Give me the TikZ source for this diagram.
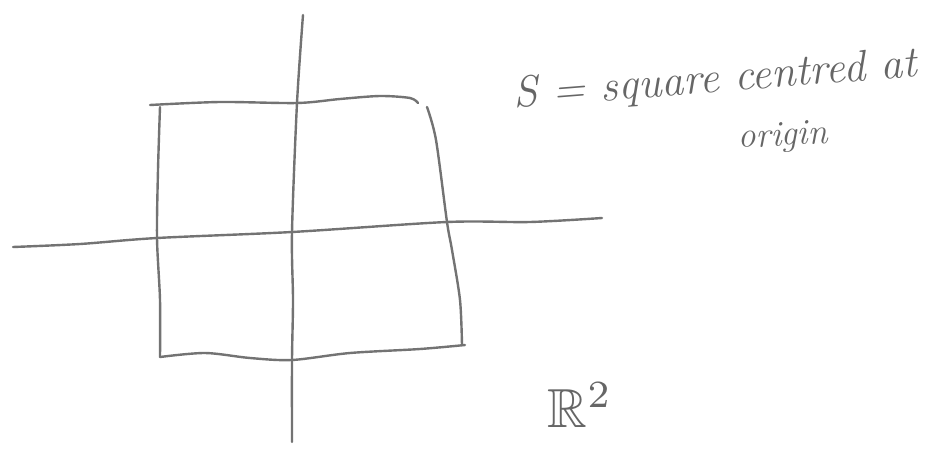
\documentclass[tikz,border=0pt]{standalone}
\usepackage{amssymb}
\begin{document}
\begin{tikzpicture}[x=1pt, y=-1pt, pencil/.style={line width=2.4pt, black!55, line cap=round, line join=round},
    every node/.style={black!60, inner sep=0pt, font=\fontsize{44}{50}\selectfont\itshape}]
            \useasboundingbox (0,0) rectangle (948,455);
            % axes
            \draw[pencil] plot[smooth] coordinates {(303,15) (297,103) (292,232) (293,300) (292,360) (292,442)};
            \draw[pencil] plot[smooth] coordinates {(13,247) (80,244) (157,238) (292,232) (447,222) (530,222) (602,218)};
            % square
            \draw[pencil] plot[smooth] coordinates {(150,105) (220,102) (297,103) (340,99) (380,96) (410,98) (418,103)};
            \draw[pencil] plot[smooth] coordinates {(160,107) (158,170) (157,238) (160,300) (160,357)};
            \draw[pencil] plot[smooth] coordinates {(427,107) (436,140) (447,222) (452,250) (460,300) (462,345)};
            \draw[pencil] plot[smooth] coordinates {(160,357) (205,353) (250,358) (292,360) (350,353) (420,349) (465,345)};
            % labels
            \node[anchor=base west, rotate=4.5] (lab1) at (514,108) {S = square centred at};
            \node[anchor=base west, rotate=3, font=\fontsize{36}{42}\selectfont\itshape] (lab2) at (738,148) {origin};
            \node[font=\normalsize, scale=5.5] (lab3) at (580,405) {$\mathbb{R}^2$};
        \end{tikzpicture}
\end{document}
